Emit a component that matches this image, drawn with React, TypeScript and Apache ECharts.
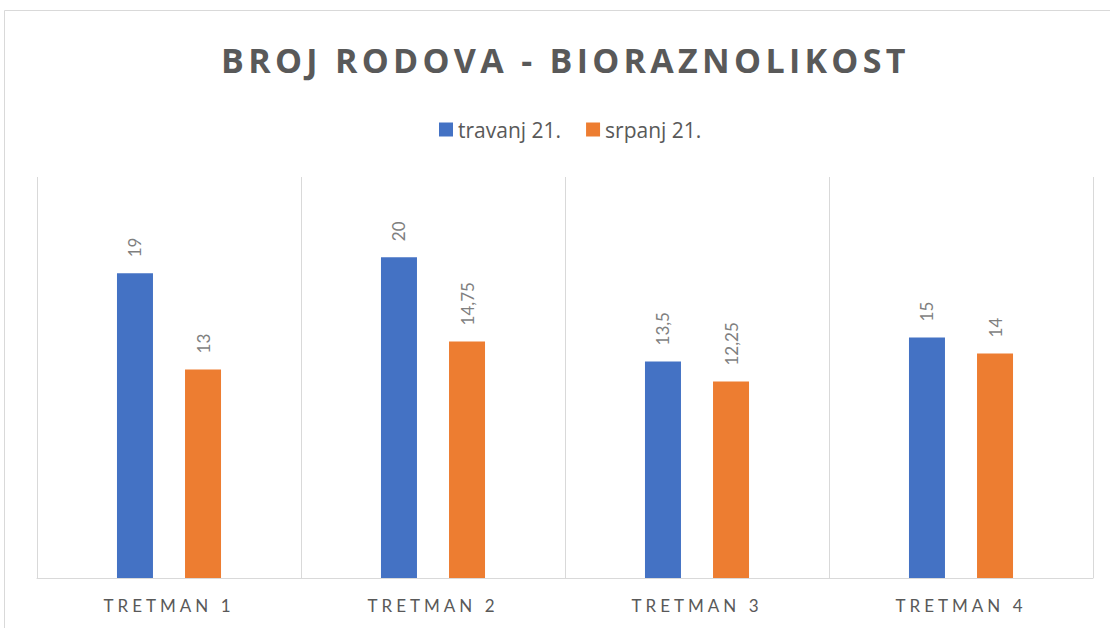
import React, { useEffect, useRef } from "react";
import * as echarts from "echarts";

const titleText = "BROJ RODOVA - BIORAZNOLIKOST";
const categories = ["TRETMAN 1", "TRETMAN 2", "TRETMAN 3", "TRETMAN 4"];
const seriesNames = ["travanj 21.", "srpanj 21."];
const travanj = [19, 20, 13.5, 15];
const srpanj = [13, 14.75, 12.25, 14];

const fmt = (v: number) => String(v).replace(".", ",");

export default function App() {
  const ref = useRef<HTMLDivElement>(null);
  useEffect(() => {
    if (!ref.current) return;
    const host = ref.current;
    const chart = echarts.init(host, undefined, { renderer: "svg" });
    const label = {
      show: true,
      position: "top" as const,
      rotate: 90,
      align: "left" as const,
      verticalAlign: "middle" as const,
      distance: 16,
      color: "#7f7f7f",
      fontSize: 17,
      fontFamily: "Lato",
      formatter: (p: any) => fmt(p.value),
    };
    chart.setOption({
      animation: false,
      backgroundColor: "#ffffff",
      title: {
        text: titleText,
        left: 216,
        top: 38,
        padding: 5,
        textStyle: {
          color: "#595959",
          fontSize: 34,
          fontWeight: "bold",
          fontFamily: "Open Sans",
        },
      },
      legend: {
        data: seriesNames,
        top: 114,
        left: 434,
        itemWidth: 14,
        itemHeight: 14,
        itemGap: 25,
        icon: "rect",
        textStyle: { color: "#595959", fontSize: 21, fontFamily: "Open Sans" },
      },
      graphic: [
        {
          type: "rect",
          shape: { x: 4.5, y: 10.5, width: 1130, height: 640 },
          style: { fill: "none", stroke: "#d9d9d9", lineWidth: 1 },
          silent: true,
        },
      ],
      grid: { left: 37, right: 17, top: 177, bottom: 50 },
      xAxis: {
        type: "category",
        data: categories,
        axisLine: { show: true, lineStyle: { color: "#d9d9d9", width: 1 } },
        axisTick: { show: false },
        splitLine: { show: true, lineStyle: { color: "#d9d9d9", width: 1 } },
        axisLabel: {
          color: "#595959",
          fontSize: 17,
          fontFamily: "Lato",
          margin: 19,
        },
      },
      yAxis: {
        type: "value",
        min: 0,
        max: 25,
        show: false,
        splitLine: { show: false },
      },
      series: [
        {
          name: seriesNames[0],
          type: "bar",
          data: travanj,
          barWidth: 36,
          barGap: "89%",
          itemStyle: { color: "#4472C4" },
          label,
        },
        {
          name: seriesNames[1],
          type: "bar",
          data: srpanj,
          barWidth: 36,
          itemStyle: { color: "#ED7D31" },
          label,
        },
      ],
    });
    const spacing = () => {
      host.querySelectorAll("text").forEach((t) => {
        const s = (t.textContent || "").trim();
        if (s === titleText) (t as SVGTextElement).style.letterSpacing = "4.3px";
        else if (categories.includes(s))
          (t as SVGTextElement).style.letterSpacing = "4px";
      });
    };
    spacing();
    chart.on("finished", spacing);
    const raf = requestAnimationFrame(spacing);
    const to = setTimeout(spacing, 50);
    return () => {
      cancelAnimationFrame(raf);
      clearTimeout(to);
      chart.dispose();
    };
  }, []);
  return (
    <div
      ref={ref}
      style={{ position: "fixed", left: 0, top: 0, width: 1110, height: 628 }}
    />
  );
}
